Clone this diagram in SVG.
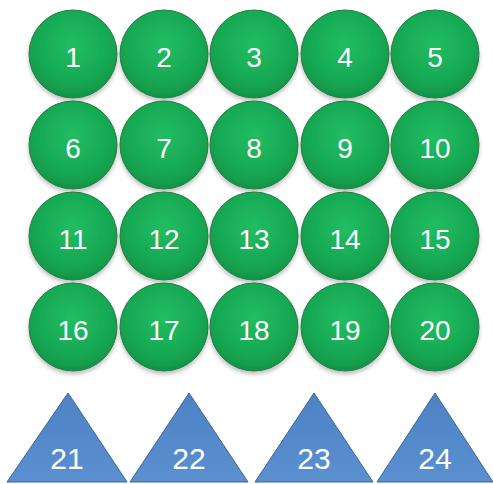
<svg xmlns="http://www.w3.org/2000/svg" width="493" height="484" viewBox="0 0 493 484">
<defs>
<radialGradient id="g" cx="50%" cy="40%" r="60%">
<stop offset="0" stop-color="#22bd62"/>
<stop offset="0.7" stop-color="#16a853"/>
<stop offset="1" stop-color="#109547"/>
</radialGradient>
<linearGradient id="b" x1="0" y1="0" x2="0" y2="1">
<stop offset="0" stop-color="#4d82c4"/>
<stop offset="1" stop-color="#5a8fd0"/>
</linearGradient>
<filter id="sh" x="-20%" y="-20%" width="140%" height="150%">
<feGaussianBlur in="SourceAlpha" stdDeviation="2"/>
<feOffset dy="3"/>
<feComponentTransfer><feFuncA type="linear" slope="0.25"/></feComponentTransfer>
<feMerge><feMergeNode/><feMergeNode in="SourceGraphic"/></feMerge>
</filter>
</defs>
<style>
.c{fill:url(#g);stroke:#2a7a45;stroke-width:1;filter:url(#sh)}
.t{fill:url(#b);stroke:#3d6595;stroke-width:1}
.l{font-family:"Liberation Sans",Arial,sans-serif;font-size:28px;fill:#ffffff;text-anchor:middle}
.m{font-size:30px}
</style>
<rect width="493" height="484" fill="#ffffff"/>
<g id="n1"><circle class="c" cx="73" cy="54" r="44"/><text class="l" x="73" y="67">1</text></g>
<g id="n2"><circle class="c" cx="164" cy="54" r="44"/><text class="l" x="164" y="67">2</text></g>
<g id="n3"><circle class="c" cx="254" cy="54" r="44"/><text class="l" x="254" y="67">3</text></g>
<g id="n4"><circle class="c" cx="345" cy="54" r="44"/><text class="l" x="345" y="67">4</text></g>
<g id="n5"><circle class="c" cx="435" cy="54" r="44"/><text class="l" x="435" y="67">5</text></g>
<g id="n6"><circle class="c" cx="73" cy="145" r="44"/><text class="l" x="73" y="158">6</text></g>
<g id="n7"><circle class="c" cx="164" cy="145" r="44"/><text class="l" x="164" y="158">7</text></g>
<g id="n8"><circle class="c" cx="254" cy="145" r="44"/><text class="l" x="254" y="158">8</text></g>
<g id="n9"><circle class="c" cx="345" cy="145" r="44"/><text class="l" x="345" y="158">9</text></g>
<g id="n10"><circle class="c" cx="435" cy="145" r="44"/><text class="l" x="435" y="158">10</text></g>
<g id="n11"><circle class="c" cx="73" cy="236" r="44"/><text class="l" x="73" y="249">11</text></g>
<g id="n12"><circle class="c" cx="164" cy="236" r="44"/><text class="l" x="164" y="249">12</text></g>
<g id="n13"><circle class="c" cx="254" cy="236" r="44"/><text class="l" x="254" y="249">13</text></g>
<g id="n14"><circle class="c" cx="345" cy="236" r="44"/><text class="l" x="345" y="249">14</text></g>
<g id="n15"><circle class="c" cx="435" cy="236" r="44"/><text class="l" x="435" y="249">15</text></g>
<g id="n16"><circle class="c" cx="73" cy="327" r="44"/><text class="l" x="73" y="340">16</text></g>
<g id="n17"><circle class="c" cx="164" cy="327" r="44"/><text class="l" x="164" y="340">17</text></g>
<g id="n18"><circle class="c" cx="254" cy="327" r="44"/><text class="l" x="254" y="340">18</text></g>
<g id="n19"><circle class="c" cx="345" cy="327" r="44"/><text class="l" x="345" y="340">19</text></g>
<g id="n20"><circle class="c" cx="435" cy="327" r="44"/><text class="l" x="435" y="340">20</text></g>
<g id="n21"><polygon class="t" points="68,393 127,482 7,482"/><text class="l m" x="67" y="469">21</text></g>
<g id="n22"><polygon class="t" points="189,393 248,482 130,482"/><text class="l m" x="189" y="469">22</text></g>
<g id="n23"><polygon class="t" points="314,393 373,482 255,482"/><text class="l m" x="314" y="469">23</text></g>
<g id="n24"><polygon class="t" points="435,393 493,482 377,482"/><text class="l m" x="435" y="469">24</text></g>
<g id="connectors"></g>
</svg>
